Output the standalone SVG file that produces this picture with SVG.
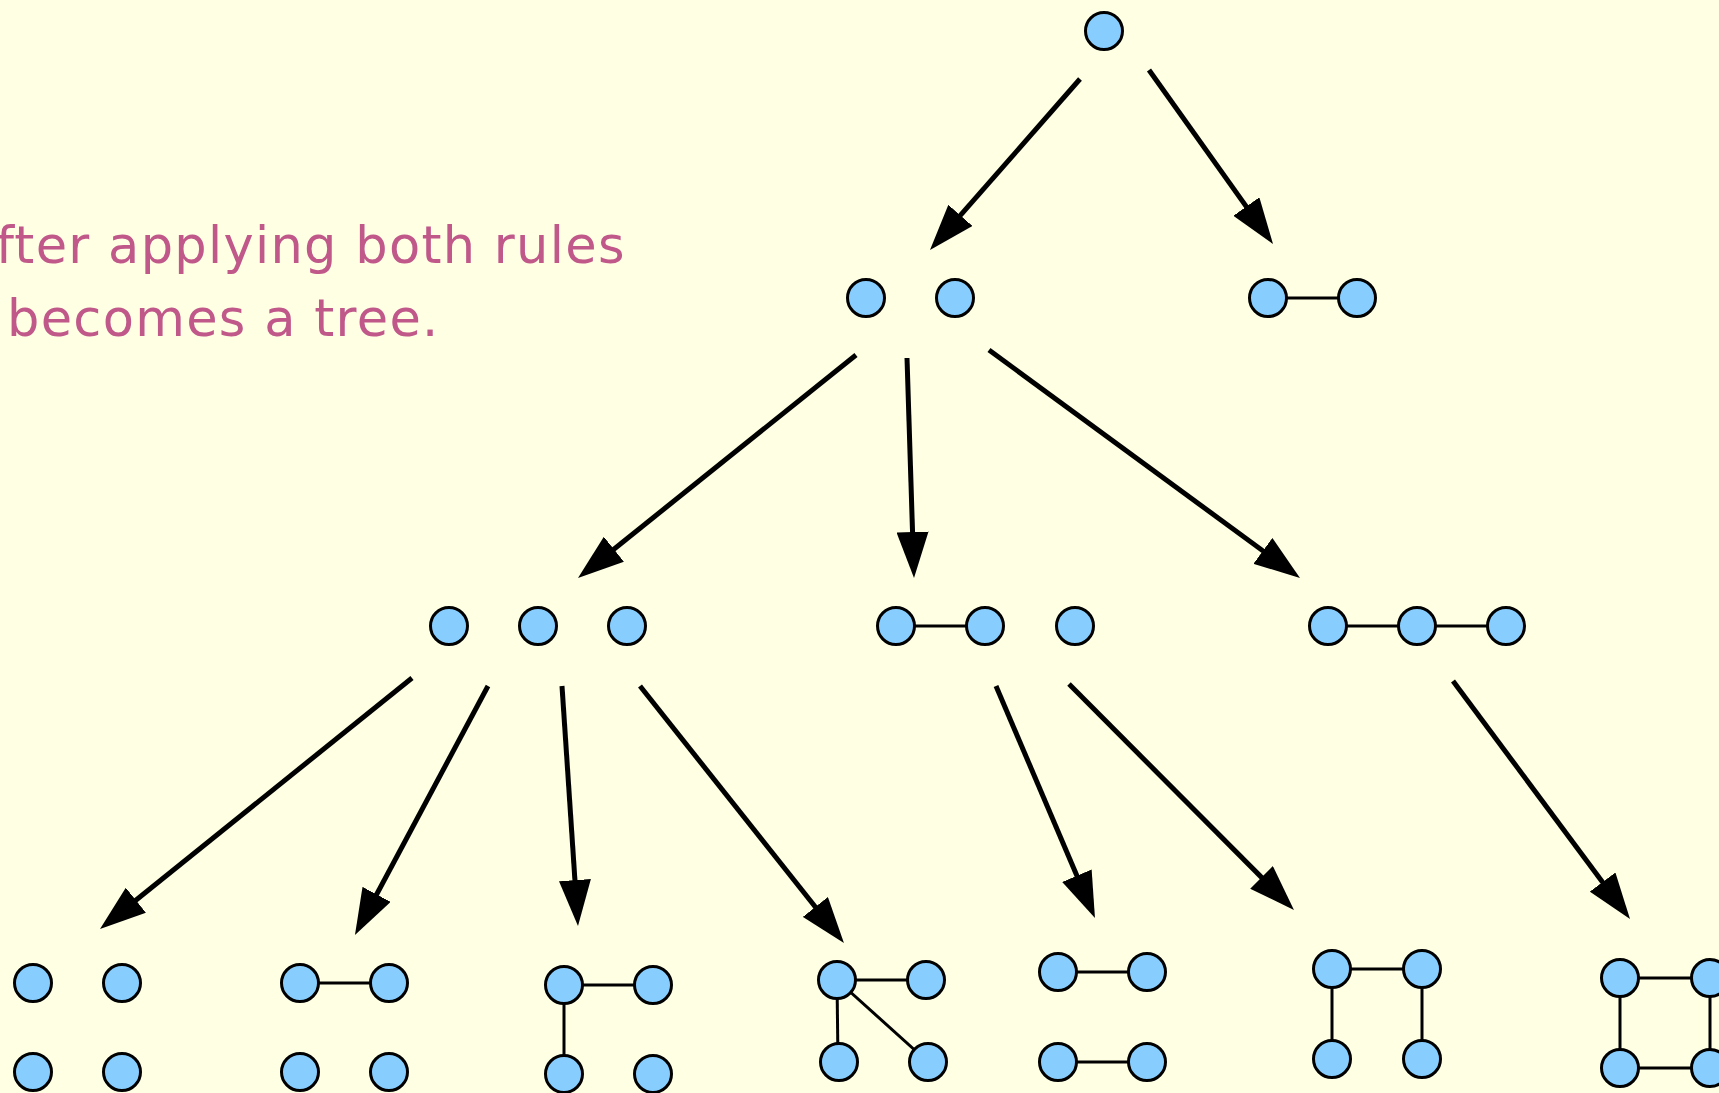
<svg xmlns="http://www.w3.org/2000/svg" width="1719" height="1093" viewBox="0 0 1719 1093">
  <defs>
    <style>
      .bg { fill: #ffffe4; }
      .v { fill: #87ceff; stroke: #000; stroke-width: 3; }
      .e { stroke: #000; stroke-width: 3; fill: none; }
      .arrow { stroke: #000; stroke-width: 5; fill: none; marker-end: url(#head); }
      .caption { font-family: "DejaVu Sans", "Liberation Sans", sans-serif; font-size: 51px; letter-spacing: 1.3px; fill: #c0588a; }
    </style>
    <marker id="head" markerUnits="userSpaceOnUse" viewBox="0 0 46 32" markerWidth="46" markerHeight="32" refX="16" refY="16" orient="auto">
      <path d="M0,0 L46,16 L0,32 Z" fill="#000"/>
    </marker>
  </defs>

  <rect class="bg" x="0" y="0" width="1719" height="1093"/>

  <g id="caption">
    <text class="caption" x="-4" y="263">fter applying both rules</text>
    <text class="caption" x="7" y="336">becomes a tree.</text>
  </g>

  <!-- derivation arrows -->
  <g id="connectors">
    <line class="arrow" x1="1080" y1="79" x2="949.8" y2="227.4"/>
    <line class="arrow" x1="1149" y1="70" x2="1255.6" y2="219.6"/>
    <line class="arrow" x1="856" y1="355" x2="601.4" y2="559.2"/>
    <line class="arrow" x1="907" y1="358" x2="913.05" y2="548"/>
    <line class="arrow" x1="989" y1="350" x2="1275.8" y2="560.3"/>
    <line class="arrow" x1="412" y1="678" x2="123.4" y2="910.2"/>
    <line class="arrow" x1="488" y1="686" x2="369.1" y2="908.5"/>
    <line class="arrow" x1="562" y1="686" x2="576" y2="896.1"/>
    <line class="arrow" x1="640" y1="686" x2="825.3" y2="919.5"/>
    <line class="arrow" x1="996" y1="686" x2="1083.2" y2="890.4"/>
    <line class="arrow" x1="1069" y1="684" x2="1272.8" y2="888.7"/>
    <line class="arrow" x1="1453" y1="681" x2="1612.1" y2="894.9"/>
  </g>

  <!-- level 1 -->
  <g id="g1">
    <circle class="v" cx="1104" cy="31" r="18.5"/>
  </g>

  <!-- level 2 -->
  <g id="g2a">
    <circle class="v" cx="866" cy="298" r="18.5"/>
    <circle class="v" cx="955" cy="298" r="18.5"/>
  </g>
  <g id="g2b">
    <line class="e" x1="1268" y1="298" x2="1357" y2="298"/>
    <circle class="v" cx="1268" cy="298" r="18.5"/>
    <circle class="v" cx="1357" cy="298" r="18.5"/>
  </g>

  <!-- level 3 -->
  <g id="g3a">
    <circle class="v" cx="449" cy="626" r="18.5"/>
    <circle class="v" cx="538" cy="626" r="18.5"/>
    <circle class="v" cx="627" cy="626" r="18.5"/>
  </g>
  <g id="g3b">
    <line class="e" x1="896" y1="626" x2="985" y2="626"/>
    <circle class="v" cx="896" cy="626" r="18.5"/>
    <circle class="v" cx="985" cy="626" r="18.5"/>
    <circle class="v" cx="1075" cy="626" r="18.5"/>
  </g>
  <g id="g3c">
    <line class="e" x1="1328" y1="626" x2="1506" y2="626"/>
    <circle class="v" cx="1328" cy="626" r="18.5"/>
    <circle class="v" cx="1417" cy="626" r="18.5"/>
    <circle class="v" cx="1506" cy="626" r="18.5"/>
  </g>

  <!-- level 4 -->
  <g id="g4a">
    <circle class="v" cx="33" cy="983" r="18.5"/>
    <circle class="v" cx="122" cy="983" r="18.5"/>
    <circle class="v" cx="33" cy="1072" r="18.5"/>
    <circle class="v" cx="122" cy="1072" r="18.5"/>
  </g>
  <g id="g4b">
    <line class="e" x1="300" y1="983" x2="389" y2="983"/>
    <circle class="v" cx="300" cy="983" r="18.5"/>
    <circle class="v" cx="389" cy="983" r="18.5"/>
    <circle class="v" cx="300" cy="1072" r="18.5"/>
    <circle class="v" cx="389" cy="1072" r="18.5"/>
  </g>
  <g id="g4c">
    <line class="e" x1="564" y1="985" x2="653" y2="985"/>
    <line class="e" x1="564" y1="985" x2="564" y2="1074"/>
    <circle class="v" cx="564" cy="985" r="18.5"/>
    <circle class="v" cx="653" cy="985" r="18.5"/>
    <circle class="v" cx="564" cy="1074" r="18.5"/>
    <circle class="v" cx="653" cy="1074" r="18.5"/>
  </g>
  <g id="g4d">
    <line class="e" x1="837" y1="980" x2="926" y2="980"/>
    <line class="e" x1="837" y1="980" x2="838" y2="1062"/>
    <line class="e" x1="837" y1="980" x2="928" y2="1062"/>
    <circle class="v" cx="837" cy="980" r="18.5"/>
    <circle class="v" cx="926" cy="980" r="18.5"/>
    <circle class="v" cx="839" cy="1062" r="18.5"/>
    <circle class="v" cx="928" cy="1062" r="18.5"/>
  </g>
  <g id="g4e">
    <line class="e" x1="1058" y1="972" x2="1147" y2="972"/>
    <line class="e" x1="1058" y1="1062" x2="1147" y2="1062"/>
    <circle class="v" cx="1058" cy="972" r="18.5"/>
    <circle class="v" cx="1147" cy="972" r="18.5"/>
    <circle class="v" cx="1058" cy="1062" r="18.5"/>
    <circle class="v" cx="1147" cy="1062" r="18.5"/>
  </g>
  <g id="g4f">
    <line class="e" x1="1332" y1="969" x2="1422" y2="969"/>
    <line class="e" x1="1332" y1="969" x2="1332" y2="1059"/>
    <line class="e" x1="1422" y1="969" x2="1422" y2="1059"/>
    <circle class="v" cx="1332" cy="969" r="18.5"/>
    <circle class="v" cx="1422" cy="969" r="18.5"/>
    <circle class="v" cx="1332" cy="1059" r="18.5"/>
    <circle class="v" cx="1422" cy="1059" r="18.5"/>
  </g>
  <g id="g4g">
    <rect class="e" x="1620" y="978" width="90" height="90"/>
    <circle class="v" cx="1620" cy="978" r="18.5"/>
    <circle class="v" cx="1710" cy="978" r="18.5"/>
    <circle class="v" cx="1620" cy="1068" r="18.5"/>
    <circle class="v" cx="1710" cy="1068" r="18.5"/>
  </g>
</svg>
